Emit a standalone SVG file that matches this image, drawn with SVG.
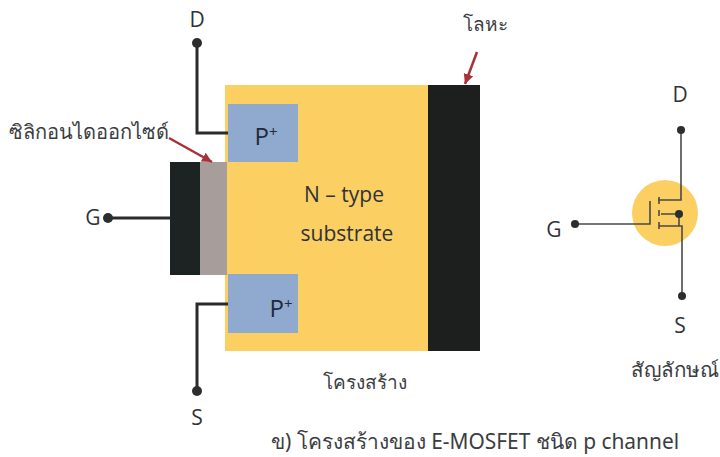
<svg xmlns="http://www.w3.org/2000/svg" width="720" height="457" viewBox="0 0 720 457">
<style>
text{font-family:"Open Sans","Noto Sans","Liberation Sans",sans-serif;fill:#2f3238;font-size:20px}
.big{font-size:21px}
.pp{font-size:24px;fill:#1f2a3a}
.th{font-family:"Noto Sans","DejaVu Sans","Liberation Sans",sans-serif;fill:#3a3d42;font-size:19px}
.c{text-anchor:middle}
.w{fill:none;stroke:#2b2b2b;stroke-width:3}
.s{fill:none;stroke:#4a4a48;stroke-width:1.6}
.d{fill:#2b2d2e}
.r{fill:none;stroke:#a8323a;stroke-width:2.5}
.p{fill:#8fa9cf}
</style>
<defs><marker id="a" markerUnits="userSpaceOnUse" markerWidth="12" markerHeight="12" refX="10" refY="5" orient="auto"><path d="M0 0L10 5L0 10Z" fill="#a8323a"/></marker></defs>
<g id="substrate"><rect x="225" y="85" width="204" height="266" fill="#fbcf62"/><text class="c big" x="344" y="202">N – type</text><text class="c big" x="347" y="241">substrate</text></g>
<g id="metal"><rect x="428" y="85" width="52" height="266" fill="#1d1f1f"/><text class="th c" x="485" y="31">โลหะ</text></g>
<g id="p-top"><rect x="228" y="104" width="70" height="58" class="p"/><text class="c pp" x="266" y="145">P<tspan font-size="15" dy="-8">+</tspan></text></g>
<g id="p-bottom"><rect x="228" y="274" width="70" height="59" class="p"/><text class="c pp" x="281" y="317">P<tspan font-size="15" dy="-8">+</tspan></text></g>
<g id="gate"><rect x="170" y="162" width="30" height="113" fill="#1d2322"/><rect x="200" y="162" width="27" height="113" fill="#a79e9c"/></g>
<g id="connectors">
<path class="w" d="M197 43V133H228"/>
<path class="w" d="M197 391V304H228"/>
<path class="w" d="M108 218H170"/>
<path class="r" d="M169 138L212 162" marker-end="url(#a)"/>
<path class="r" d="M477 52L465 84" marker-end="url(#a)"/>
</g>
<g id="terminal-d"><circle class="d" cx="197" cy="43" r="5"/><text class="c big" x="197" y="27">D</text></g>
<g id="terminal-s"><circle class="d" cx="197" cy="391" r="5"/><text class="c big" x="197" y="425">S</text></g>
<g id="terminal-g"><circle class="d" cx="108" cy="218" r="5"/><text class="c big" x="93" y="225">G</text></g>
<g id="oxide-label"><text class="th" x="9" y="139" style="font-size:20px">ซิลิกอนไดออกไซด์</text></g>
<g id="structure-label"><text class="th c" x="365" y="389">โครงสร้าง</text></g>
<g id="symbol">
<circle cx="665" cy="213" r="33" fill="#fbcf62"/>
<path class="s" d="M681 130V200H658M575 224H650V201M659 197V204M659 210V216M659 222V229M661 214H679M659 226H682V296M679 214V226"/>
<circle class="d" cx="681" cy="130" r="4"/><circle class="d" cx="679" cy="214" r="4"/><circle class="d" cx="682" cy="296" r="4"/><circle class="d" cx="575" cy="224" r="4"/>
<text class="c big" x="680" y="102">D</text><text class="c big" x="680" y="333">S</text><text class="c big" x="554" y="237">G</text>
<text class="th c" x="675" y="377" style="font-size:20.5px">สัญลักษณ์</text>
</g>
<g id="caption"><text class="th" x="271" y="449" style="font-size:20.9px">ข) โครงสร้างของ E-MOSFET ชนิด p channel</text></g>
</svg>
